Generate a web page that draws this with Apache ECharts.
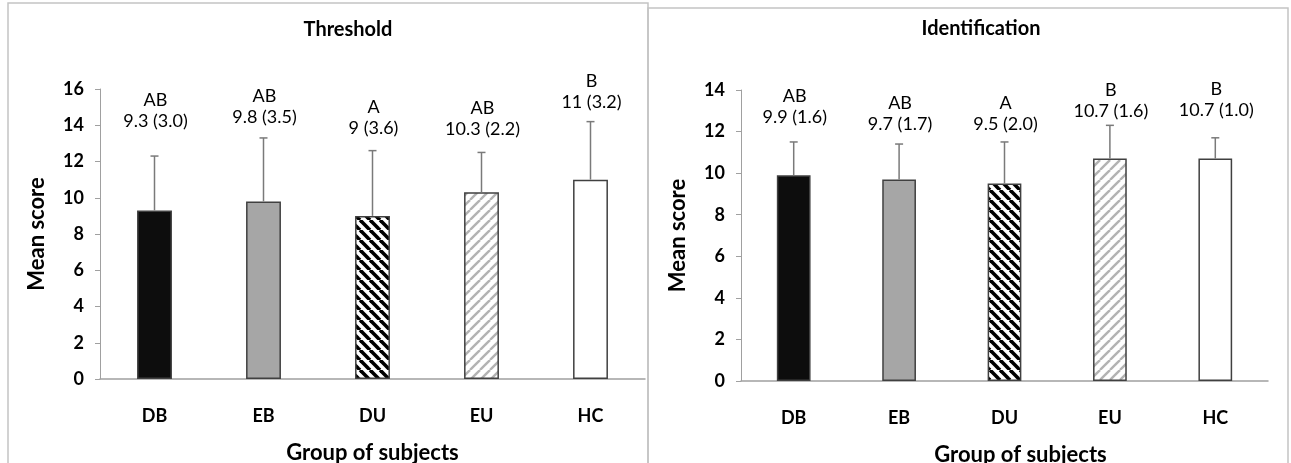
<!DOCTYPE html>
<html>
<head>
<meta charset="utf-8">
<script src="https://cdn.jsdelivr.net/npm/echarts@6/dist/echarts.min.js"></script>
<style>
  html, body { margin: 0; padding: 0; background: #fff; }
  #chart { width: 1291px; height: 463px; }
</style>
</head>
<body>
<div id="chart"></div>
<script>
// data
const groups = ['DB', 'EB', 'DU', 'EU', 'HC']
const thresholdMean = [9.3, 9.8, 9, 10.3, 11]
const thresholdSd = [3.0, 3.5, 3.6, 2.2, 3.2]
const thresholdLetters = ['AB', 'AB', 'A', 'AB', 'B']
const identMean = [9.9, 9.7, 9.5, 10.7, 10.7]
const identSd = [1.6, 1.7, 2.0, 1.6, 1.0]
const identLetters = ['AB', 'AB', 'A', 'B', 'B']
const thresholdTicks = { min: 0, max: 16, interval: 2 }
const identTicks = { min: 0, max: 14, interval: 2 }

// gap in px between top of error bar and the label block (labels were hand placed)
const thresholdLabelGap = [25, 11, 13, 14, 10]
const identLabelGap = [15, 10, 8, 5, 18]

const FONT = 'Lato, "Open Sans", sans-serif'

// stripe fills
function stripes(bg, fg, lw, dir) {
  const s = 10
  const c = document.createElement('canvas')
  c.width = s; c.height = s
  const ctx = c.getContext('2d')
  ctx.fillStyle = bg
  ctx.fillRect(0, 0, s, s)
  ctx.strokeStyle = fg
  ctx.lineWidth = lw
  ;[-s, 0, s].forEach(k => {
    ctx.beginPath()
    if (dir === 'down') { ctx.moveTo(k, 0); ctx.lineTo(k + s, s) }
    else { ctx.moveTo(k, s); ctx.lineTo(k + s, 0) }
    ctx.stroke()
  })
  return { image: c, repeat: 'repeat' }
}

const fills = [
  '#0d0d0d',
  '#a6a6a6',
  stripes('#ffffff', '#000000', 3.6, 'down'),
  stripes('#ffffff', '#b3b3b3', 2.4, 'up'),
  '#ffffff'
]

function barData(means) {
  return means.map((v, i) => ({
    value: v,
    itemStyle: { color: fills[i], borderColor: '#404040', borderWidth: 1.5 }
  }))
}

function errSeries(idx, means, sds, letters, gaps) {
  return {
    type: 'custom',
    xAxisIndex: idx,
    yAxisIndex: idx,
    z: 5,
    data: means.map((m, i) => [i, m, m + sds[i]]),
    renderItem: function (params, api) {
      const i = api.value(0)
      const base = api.coord([i, api.value(1)])
      const top = api.coord([i, api.value(2)])
      const cap = 4
      const txt = letters[i] + '\n' + means[i] + ' (' + sds[i].toFixed(1) + ')'
      return {
        type: 'group',
        children: [
          { type: 'line', shape: { x1: base[0], y1: base[1], x2: top[0], y2: top[1] },
            style: { stroke: '#7a7a7a', lineWidth: 1.5 } },
          { type: 'line', shape: { x1: top[0] - cap, y1: top[1], x2: top[0] + cap, y2: top[1] },
            style: { stroke: '#7a7a7a', lineWidth: 1.5 } },
          { type: 'text', x: top[0] + 1, y: top[1] - gaps[i] + 1,
            style: { text: txt, align: 'center', verticalAlign: 'bottom',
              font: '18px ' + FONT, lineHeight: 21, fill: '#000' } }
        ]
      }
    }
  }
}

function yAxis(idx, ticks) {
  return {
    type: 'value',
    gridIndex: idx,
    min: ticks.min, max: ticks.max, interval: ticks.interval,
    name: 'Mean score',
    nameLocation: 'middle',
    nameRotate: 90,
    nameGap: 52,
    nameTextStyle: { fontFamily: FONT, fontWeight: 'bold', fontSize: 22, color: '#000' },
    axisLine: { show: true, lineStyle: { color: '#a0a0a0', width: 1 } },
    axisTick: { show: true, length: 5, lineStyle: { color: '#a0a0a0' } },
    splitLine: { show: false },
    axisLabel: { fontFamily: FONT, fontWeight: 'bold', fontSize: 18, color: '#000', margin: 16 }
  }
}

function xAxis(idx, shift) {
  return {
    type: 'category',
    gridIndex: idx,
    data: groups,
    name: 'Group of subjects',
    nameLocation: 'middle',
    nameGap: 63,
    nameTextStyle: { fontFamily: FONT, fontWeight: 'bold', fontSize: 22, color: '#000',
      padding: [0, 0, 0, shift] },
    axisLine: { lineStyle: { color: '#a0a0a0', width: 1.5 } },
    axisTick: { show: false },
    axisLabel: { fontFamily: FONT, fontWeight: 'bold', fontSize: 18, color: '#000', margin: 28 }
  }
}

const chart = echarts.init(document.getElementById('chart'))
chart.setOption({
  animation: false,
  backgroundColor: '#fff',
  title: [
    { text: 'Threshold', left: 343, top: 15, textAlign: 'center',
      textStyle: { fontFamily: FONT, fontWeight: 'bold', fontSize: 20, color: '#000' } },
    { text: 'Identification', left: 976, top: 14, textAlign: 'center',
      textStyle: { fontFamily: FONT, fontWeight: 'bold', fontSize: 20, color: '#000' } }
  ],
  graphic: [
    { type: 'rect', shape: { x: 8, y: 3, width: 640, height: 470 },
      style: { fill: null, stroke: '#c4c4c4', lineWidth: 1.5 }, silent: true },
    { type: 'rect', shape: { x: 648, y: 8, width: 640, height: 470 },
      style: { fill: null, stroke: '#c4c4c4', lineWidth: 1.5 }, silent: true }
  ],
  grid: [
    { left: 100, right: 646, top: 89, bottom: 84, outerBoundsMode: 'none', containLabel: false },
    { left: 741, right: 23, top: 90, bottom: 82, outerBoundsMode: 'none', containLabel: false }
  ],
  xAxis: [xAxis(0, 0), xAxis(1, 32)],
  yAxis: [yAxis(0, thresholdTicks), yAxis(1, identTicks)],
  series: [
    { type: 'bar', xAxisIndex: 0, yAxisIndex: 0, barWidth: '32%', data: barData(thresholdMean) },
    { type: 'bar', xAxisIndex: 1, yAxisIndex: 1, barWidth: '32%', data: barData(identMean) },
    errSeries(0, thresholdMean, thresholdSd, thresholdLetters, thresholdLabelGap),
    errSeries(1, identMean, identSd, identLetters, identLabelGap)
  ]
})
</script>
</body>
</html>
